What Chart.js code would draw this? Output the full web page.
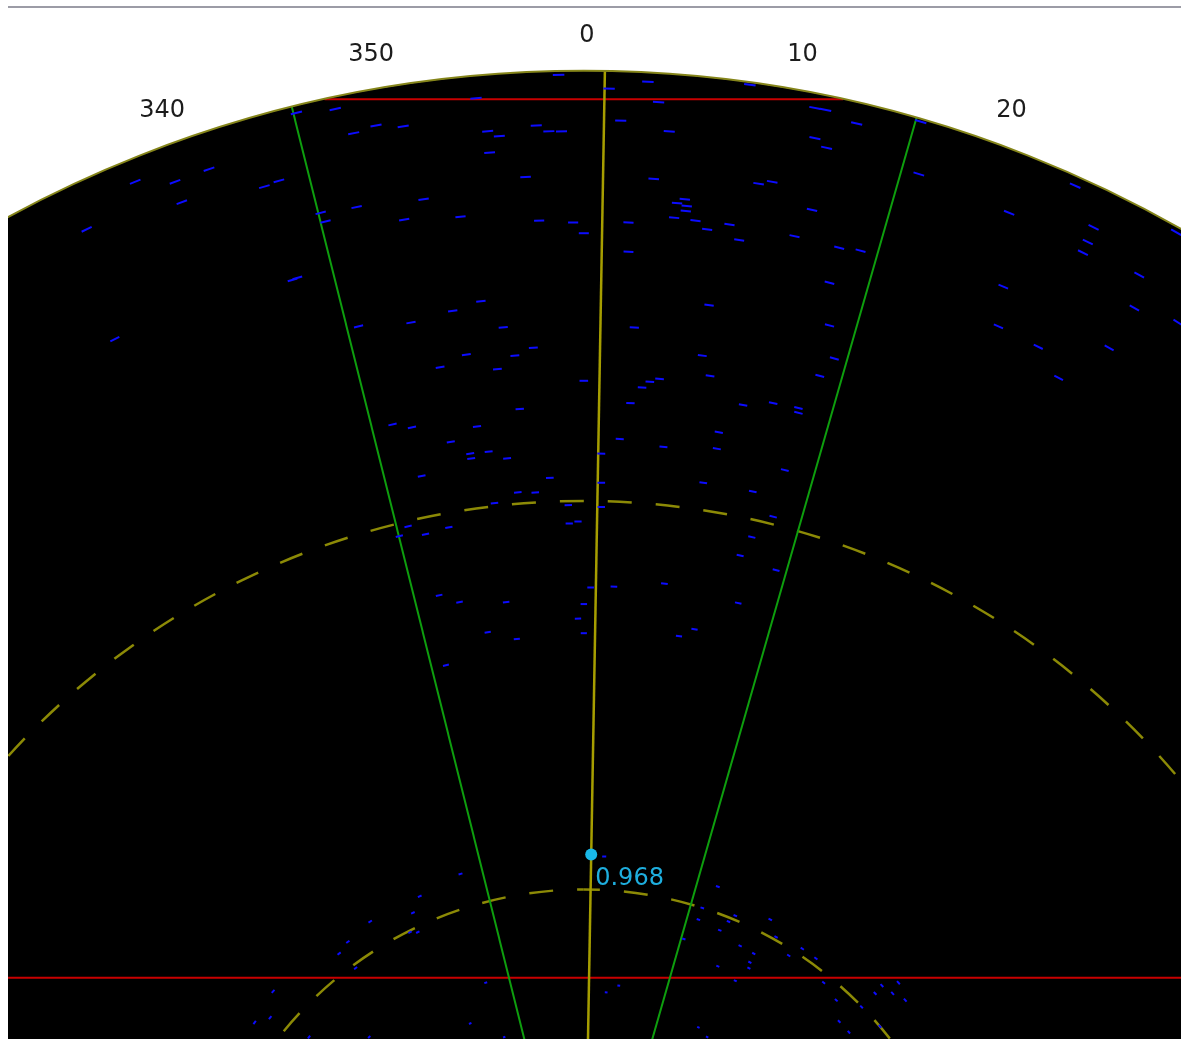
<!DOCTYPE html>
<html>
<head>
<meta charset="utf-8">
<title>Sector scan</title>
<script src="https://cdn.jsdelivr.net/npm/chart.js@4/dist/chart.umd.min.js"></script>
<style>
  html, body { margin: 0; padding: 0; background: #ffffff; }
  #wrap { width: 1186px; height: 1039px; position: relative; }
</style>
</head>
<body>
<div id="wrap"><canvas id="scope" width="1186" height="1039"></canvas></div>
<script>
// ---- scan geometry (metres / degrees) ----
const rangeRings = [400, 800];
const maxRange = 1243;
const viewEast = [-593, 615];
const viewNorth = [246, 1308];

// bearing ticks written round the rim
const bearingTicks = [340, 350, 0, 10, 20];

// cursor and sector
const cursorBearing = 1;
const cursorRange = 436;
const cursorValue = '0.968';
const sectorEdges = [346, 16];

// horizontal gate lines (north offset, m)
const gateNorth = [1214, 309];

// echoes: east / north offsets from the antenna (m)
const echoEast = [
  -462, -421, -386, -414, -329, -314, -512, -300, -483, -296,
  -26, -111, -256, -237, -214, -186, -99, -87, -49, -36,
  -23, -97, -60, -271, -266, -234, -165, -185, -127, -46,
  -11, 0, -295, -106, -135, -178, -83, -232, -52,
  66, 26, 171, 77, 238, 249, 38, 88, 281, 238,
  250, 72, 180, 194, 96, 104, 106, 105, 93, 115,
  127, 46, 150, 160, 235, 217, 46, 263, 285, 253,
  129, 52, 253,
  347, 345, 506, 438, 525, 519, 514, 610, 572, 432,
  567, 427, 468, 541, 612,
  -121, -148, -71, -89, 0, -66, -197, -177, -110, -137,
  -117, -116, -98, -79, -167, -35, -68, -50, -92, -16,
  -15, -6, -181, -190, -163, -139, 7, -149, -128, -80,
  0, -6, -99, -69, 0, -142,
  122, 258, 243, 78, 68, 60, 130, 48, 164, 195,
  221, 221, 37, 139, 82, 137, 18, 207, 18, 123,
  174, 18, 195, 173, 161, 198, 31, 83, 159, 114,
  98, 489,
  -320, -323, -339, -127, -169, -176, -220, -179, -171, -243,
  -252, -235, -101, -117, -283, -221, -82,
  21, 138, 122, 118, 156, 192, 140, 149, 198, 103,
  161, 175, 211, 225, 239, 171, 170, 138, 36, 23,
  156, 247, 260, 286, 300, 307, 263, 273, 118, 305,
  127, 324, 318, 331
];
const echoNorth = [
  1129, 1129, 1142, 1108, 1124, 1130, 1080, 1028, 967, 1200,
  1239, 1215, 1204, 1179, 1187, 1186, 1181, 1176, 1187, 1181,
  1181, 1159, 1134, 1097, 1088, 1103, 1111, 1090, 1093, 1089,
  1087, 1076, 1030, 1006, 996, 984, 979, 980, 958,
  1232, 1225, 1229, 1211, 1205, 1203, 1192, 1181, 1189, 1174,
  1164, 1132, 1127, 1129, 1107, 1111, 1104, 1099, 1092, 1089,
  1080, 1087, 1085, 1069, 1100, 1073, 1057, 1061, 1058, 1025,
  1002, 979, 981,
  1191, 1137, 1125, 1097, 1082, 1067, 1056, 1077, 1033, 1021,
  999, 980, 959, 958, 984,
  951, 938, 950, 936, 924, 895, 879, 876, 877, 861,
  849, 844, 851, 844, 826, 824, 809, 809, 798, 796,
  777, 779, 774, 764, 766, 773, 711, 703, 696, 696,
  694, 679, 665, 658, 664, 631,
  950, 947, 929, 926, 923, 917, 929, 901, 899, 901,
  896, 891, 864, 871, 856, 854, 849, 832, 819, 819,
  810, 794, 784, 763, 744, 729, 712, 715, 695, 668,
  661, 927,
  295, 268, 263, 416, 393, 376, 367, 356, 356, 346,
  334, 319, 304, 262, 248, 248, 248,
  434, 403, 381, 369, 373, 369, 358, 367, 351, 349,
  342, 334, 332, 339, 329, 325, 319, 321, 301, 294,
  306, 304, 286, 279, 293, 301, 264, 253, 258, 259,
  248, 304, 293, 286
];

// ---- styling ----
const COLORS = {
  disk: '#000000',
  rim: '#85851a',
  ring: '#8c8a06',
  cursorLine: '#a69e00',
  sector: '#0e9e0e',
  gate: '#c80000',
  echo: '#0c0cff',
  cursor: '#19b8e8',
  cursorText: '#1eaede',
  tickText: '#1c1c1c',
  rule: '#9c9ca6'
};
const ECHO_WIDTH_DEG = 0.55;
const RING_DASH = [24, 24];
// dash phase going clockwise / anticlockwise from north, per ring
const ringPhaseCW = [7.8, 24];
const ringPhaseCCW = [17.2, 0];
const TICK_GAP = 35;
const TICK_NUDGE_X = 3;

const DEG = Math.PI / 180;
const polar = (b, r) => ({ x: r * Math.sin(b * DEG), y: r * Math.cos(b * DEG) });
const echoData = echoEast.map((e, i) => ({ x: e, y: echoNorth[i] }));

function pxPerMetre(chart) {
  const sx = chart.scales.x;
  return sx.getPixelForValue(1) - sx.getPixelForValue(0);
}

const scopePlugin = {
  id: 'scope',
  beforeDatasetsDraw(chart) {
    const { ctx, chartArea: a, scales: { x, y } } = chart;
    const cx = x.getPixelForValue(0), cy = y.getPixelForValue(0);
    const k = pxPerMetre(chart);
    ctx.save();
    ctx.beginPath();
    ctx.rect(a.left, a.top, a.right - a.left, a.bottom - a.top);
    ctx.clip();
    // scan disk
    ctx.beginPath();
    ctx.arc(cx, cy, maxRange * k, 0, Math.PI * 2);
    ctx.fillStyle = COLORS.disk;
    ctx.fill();
    // dashed range rings
    ctx.strokeStyle = COLORS.ring;
    ctx.lineWidth = 2.5;
    ctx.setLineDash(RING_DASH);
    rangeRings.forEach((r, i) => {
      const rp = r * k;
      ctx.lineDashOffset = ringPhaseCW[i];
      ctx.beginPath();
      ctx.arc(cx, cy, rp, -Math.PI / 2, Math.PI / 2, false);
      ctx.stroke();
      ctx.lineDashOffset = ringPhaseCCW[i];
      ctx.beginPath();
      ctx.arc(cx, cy, rp, -Math.PI / 2, -3 * Math.PI / 2, true);
      ctx.stroke();
    });
    ctx.restore();
  },
  afterDatasetsDraw(chart) {
    const { ctx, chartArea: a, scales: { x, y } } = chart;
    const cx = x.getPixelForValue(0), cy = y.getPixelForValue(0);
    const k = pxPerMetre(chart);
    const R = maxRange * k;
    ctx.save();
    ctx.beginPath();
    ctx.rect(a.left, a.top, a.right - a.left, a.bottom - a.top);
    ctx.clip();
    // rim
    ctx.beginPath();
    ctx.arc(cx, cy, R, 0, Math.PI * 2);
    ctx.strokeStyle = COLORS.rim;
    ctx.lineWidth = 2;
    ctx.stroke();
    ctx.restore();

    // bearing labels
    ctx.save();
    ctx.font = '24px "DejaVu Sans"';
    ctx.fillStyle = COLORS.tickText;
    ctx.textAlign = 'center';
    ctx.textBaseline = 'middle';
    bearingTicks.forEach(b => {
      const t = b * DEG;
      const rr = R + TICK_GAP;
      ctx.fillText(String(b), cx + rr * Math.sin(t) + TICK_NUDGE_X, cy - rr * Math.cos(t));
    });
    // cursor readout
    const p = polar(cursorBearing, cursorRange);
    const px = x.getPixelForValue(p.x), py = y.getPixelForValue(p.y);
    ctx.fillStyle = COLORS.cursorText;
    ctx.textAlign = 'left';
    ctx.fillText(cursorValue, px + 4, py + 24);
    // top rule
    ctx.strokeStyle = COLORS.rule;
    ctx.lineWidth = 2;
    ctx.beginPath();
    ctx.moveTo(a.left, a.top - 1);
    ctx.lineTo(a.right, a.top - 1);
    ctx.stroke();
    ctx.restore();
  }
};

const lineSet = (data, color, width, order) => ({
  data, showLine: true, borderColor: color, borderWidth: width,
  pointRadius: 0, fill: false, tension: 0, order
});

const datasets = [
  {
    label: 'cursor',
    data: [polar(cursorBearing, cursorRange)],
    pointRadius: 6,
    pointBackgroundColor: COLORS.cursor,
    pointBorderWidth: 0,
    order: 0
  },
  {
    label: 'echoes',
    data: echoData,
    pointStyle: 'line',
    pointBorderColor: COLORS.echo,
    pointBorderWidth: 2,
    pointRotation: ctx => ctx.raw ? Math.atan2(ctx.raw.x, ctx.raw.y) / DEG : 0,
    pointRadius: ctx => {
      if (!ctx.raw) return 0;
      const r = Math.hypot(ctx.raw.x, ctx.raw.y) * pxPerMetre(ctx.chart);
      return r * Math.tan(ECHO_WIDTH_DEG / 2 * DEG);
    },
    order: 1
  },
  lineSet([{ x: 0, y: 0 }, polar(cursorBearing, maxRange)], COLORS.cursorLine, 2.5, 2),
  ...sectorEdges.map(b => lineSet([{ x: 0, y: 0 }, polar(b, maxRange)], COLORS.sector, 2, 3)),
  ...gateNorth.map(n => {
    const h = Math.sqrt(maxRange * maxRange - n * n);
    return lineSet([{ x: -h, y: n }, { x: h, y: n }], COLORS.gate, 2, 4);
  })
];

new Chart(document.getElementById('scope'), {
  type: 'scatter',
  data: { datasets },
  options: {
    responsive: false,
    animation: false,
    events: [],
    layout: { autoPadding: false, padding: { left: 8, right: 5, top: 8, bottom: 0 } },
    scales: {
      x: { type: 'linear', min: viewEast[0], max: viewEast[1], display: false },
      y: { type: 'linear', min: viewNorth[0], max: viewNorth[1], display: false }
    },
    plugins: { legend: { display: false }, tooltip: { enabled: false } }
  },
  plugins: [scopePlugin]
});
</script>
</body>
</html>
